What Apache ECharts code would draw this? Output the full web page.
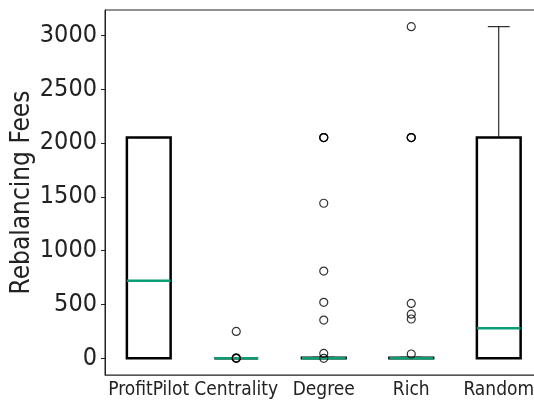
<!DOCTYPE html>
<html>
<head>
<meta charset="utf-8">
<script src="https://cdn.jsdelivr.net/npm/echarts@6/dist/echarts.min.js"></script>
<style>
  html, body { margin: 0; padding: 0; background: #fff; }
  #chart { width: 534px; height: 403px; }
</style>
</head>
<body>
<div id="chart"></div>
<script>
// categories and box stats (low whisker, q1, median, q3, high whisker)
var categories = ['ProfitPilot', 'Centrality', 'Degree', 'Rich', 'Random'];
var lowWhisker = [0, 0, 0, 0, 0];
var q1 = [0, 0, 0, 0, 0];
var medians = [720, 0, 0, 0, 280];
var q3 = [2050, 0, 5, 5, 2050];
var highWhisker = [2050, 0, 10, 10, 3080];

// outliers per category
var outCentrality = [250, 0, 0, 5];
var outDegree = [2050, 2050, 2050, 1440, 810, 520, 355, 45, 0];
var outRich = [3080, 2050, 2050, 2050, 510, 410, 365, 40];

var yTicks = [0, 500, 1000, 1500, 2000, 2500, 3000];

var font = '"Liberation Sans Narrow", "DejaVu Sans Condensed", sans-serif';

var boxData = [];
for (var i = 0; i < categories.length; i++) {
  boxData.push([i, lowWhisker[i], q1[i], medians[i], q3[i], highWhisker[i]]);
}

var outliers = [];
outCentrality.forEach(function (v) { outliers.push([1, v]); });
outDegree.forEach(function (v) { outliers.push([2, v]); });
outRich.forEach(function (v) { outliers.push([3, v]); });

function renderBox(params, api) {
  var x = api.value(0);
  var band = api.size([1, 0])[0];
  var half = band * 0.25;
  var cap = band * 0.125;
  var pLow = api.coord([x, api.value(1)]);
  var pQ1 = api.coord([x, api.value(2)]);
  var pMed = api.coord([x, api.value(3)]);
  var pQ3 = api.coord([x, api.value(4)]);
  var pHigh = api.coord([x, api.value(5)]);
  var cx = pQ1[0];
  var thin = { stroke: '#000', lineWidth: 1 };
  return {
    type: 'group',
    children: [
      { type: 'line', shape: { x1: cx, y1: pQ3[1], x2: cx, y2: pHigh[1] }, style: thin },
      { type: 'line', shape: { x1: cx - cap, y1: pHigh[1], x2: cx + cap, y2: pHigh[1] }, style: thin },
      { type: 'line', shape: { x1: cx, y1: pQ1[1], x2: cx, y2: pLow[1] }, style: thin },
      { type: 'line', shape: { x1: cx - cap, y1: pLow[1], x2: cx + cap, y2: pLow[1] }, style: thin },
      { type: 'rect', shape: { x: cx - half, y: pQ3[1], width: half * 2, height: pQ1[1] - pQ3[1] },
        style: { fill: 'none', stroke: '#000', lineWidth: 2.5 } },
      { type: 'line', shape: { x1: cx - half, y1: pMed[1], x2: cx + half, y2: pMed[1] },
        style: { stroke: '#0a9e74', lineWidth: 2.5 } }
    ]
  };
}

var chart = echarts.init(document.getElementById('chart'));
var option = {
  animation: false,
  grid: {
    left: 105, top: 10, bottom: 28, right: -8.5,
    outerBoundsMode: 'none',
    containLabel: false,
    show: true, borderColor: '#222', borderWidth: 1, backgroundColor: 'transparent'
  },
  xAxis: {
    type: 'category',
    data: categories,
    axisLine: { onZero: false, lineStyle: { color: '#555', width: 1.2 } },
    axisTick: { alignWithLabel: true, length: 4, lineStyle: { color: '#555' } },
    axisLabel: { color: '#222', fontSize: 19, fontFamily: font, margin: 6, interval: 0, hideOverlap: false },
    splitLine: { show: false }
  },
  yAxis: {
    type: 'value',
    min: -155,
    max: 3235,
    name: 'Rebalancing Fees',
    nameLocation: 'middle',
    nameGap: 70,
    nameMoveOverlap: false,
    nameTextStyle: { color: '#222', fontSize: 26, fontFamily: font },
    axisLine: { show: true, lineStyle: { color: '#222' } },
    axisTick: { show: true, length: 4, customValues: yTicks, lineStyle: { color: '#222' } },
    axisLabel: {
      color: '#222', fontSize: 25, fontFamily: font, margin: 8, customValues: yTicks,
      formatter: function (v) { return String(v); }
    },
    splitLine: { show: false }
  },
  series: [
    {
      type: 'custom',
      renderItem: renderBox,
      data: boxData,
      encode: { x: 0, y: [1, 2, 3, 4, 5] },
      z: 2
    },
    {
      type: 'scatter',
      data: outliers,
      symbol: 'circle',
      symbolSize: 8,
      itemStyle: { color: 'rgba(0,0,0,0)', borderColor: '#000', borderWidth: 1.2 },
      z: 3
    }
  ]
};
chart.setOption(option);
</script>
</body>
</html>
